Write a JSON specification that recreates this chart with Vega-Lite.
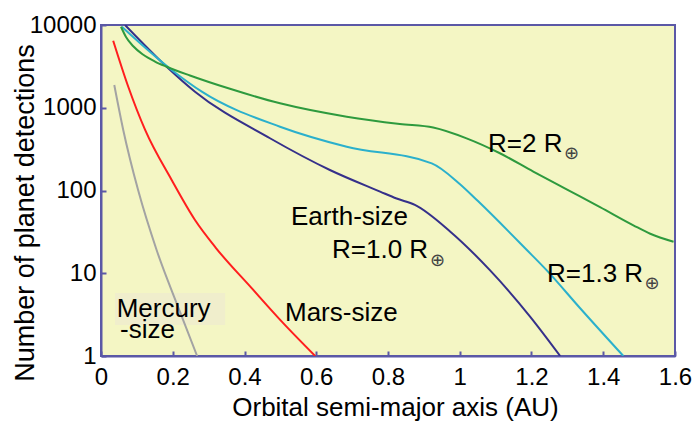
{
  "$schema": "https://vega.github.io/schema/vega-lite/v6.json",
  "width": 574,
  "height": 331,
  "autosize": "none",
  "padding": {"left": 101, "top": 25, "right": 25, "bottom": 65},
  "background": "white",
  "config": {
    "view": {"stroke": "#5b58a6", "strokeWidth": 2, "fill": "#f4f6c4"},
    "font": "Liberation Sans"
  },
  "datasets": {
    "curves": [
      {"series": "Mercury", "x": 0.037, "y": 1880},
      {"series": "Mercury", "x": 0.062, "y": 539},
      {"series": "Mercury", "x": 0.104, "y": 99},
      {"series": "Mercury", "x": 0.155, "y": 19.1},
      {"series": "Mercury", "x": 0.215, "y": 3.9},
      {"series": "Mercury", "x": 0.268, "y": 1},
      {"series": "Mars", "x": 0.034, "y": 6460},
      {"series": "Mars", "x": 0.076, "y": 1795},
      {"series": "Mars", "x": 0.123, "y": 540},
      {"series": "Mars", "x": 0.197, "y": 134},
      {"series": "Mars", "x": 0.262, "y": 44},
      {"series": "Mars", "x": 0.32, "y": 20.3},
      {"series": "Mars", "x": 0.42, "y": 6.6},
      {"series": "Mars", "x": 0.504, "y": 2.6},
      {"series": "Mars", "x": 0.597, "y": 1},
      {"series": "Earth", "x": 0.067, "y": 10000},
      {"series": "Earth", "x": 0.183, "y": 3133},
      {"series": "Earth", "x": 0.262, "y": 1563},
      {"series": "Earth", "x": 0.471, "y": 428},
      {"series": "Earth", "x": 0.638, "y": 177},
      {"series": "Earth", "x": 0.778, "y": 97},
      {"series": "Earth", "x": 0.824, "y": 80},
      {"series": "Earth", "x": 0.875, "y": 67},
      {"series": "Earth", "x": 0.973, "y": 32},
      {"series": "Earth", "x": 1.084, "y": 10.9},
      {"series": "Earth", "x": 1.196, "y": 3.0},
      {"series": "Earth", "x": 1.28, "y": 1},
      {"series": "R13", "x": 0.058, "y": 9500},
      {"series": "R13", "x": 0.197, "y": 2860},
      {"series": "R13", "x": 0.281, "y": 1563},
      {"series": "R13", "x": 0.499, "y": 590},
      {"series": "R13", "x": 0.685, "y": 338},
      {"series": "R13", "x": 0.922, "y": 213},
      {"series": "R13", "x": 1.0, "y": 120},
      {"series": "R13", "x": 1.05, "y": 75},
      {"series": "R13", "x": 1.185, "y": 19.5},
      {"series": "R13", "x": 1.242, "y": 10.9},
      {"series": "R13", "x": 1.335, "y": 3.8},
      {"series": "R13", "x": 1.456, "y": 1},
      {"series": "R2", "x": 0.0557, "y": 9530},
      {"series": "R2", "x": 0.0697, "y": 7160},
      {"series": "R2", "x": 0.0892, "y": 5570},
      {"series": "R2", "x": 0.117, "y": 4400},
      {"series": "R2", "x": 0.1505, "y": 3620},
      {"series": "R2", "x": 0.183, "y": 3133},
      {"series": "R2", "x": 0.248, "y": 2455},
      {"series": "R2", "x": 0.355, "y": 1718},
      {"series": "R2", "x": 0.499, "y": 1132},
      {"series": "R2", "x": 0.685, "y": 780},
      {"series": "R2", "x": 0.833, "y": 637},
      {"series": "R2", "x": 0.926, "y": 577},
      {"series": "R2", "x": 1.019, "y": 427},
      {"series": "R2", "x": 1.112, "y": 282},
      {"series": "R2", "x": 1.205, "y": 169},
      {"series": "R2", "x": 1.298, "y": 103},
      {"series": "R2", "x": 1.391, "y": 63},
      {"series": "R2", "x": 1.484, "y": 38},
      {"series": "R2", "x": 1.531, "y": 30},
      {"series": "R2", "x": 1.596, "y": 24}
    ],
    "labels": [
      {"text": "R=2 R", "x": 1.0787, "y": 292},
      {"text": "Earth-size", "x": 0.5296, "y": 38.3},
      {"text": "R=1.0 R", "x": 0.6439, "y": 15.3},
      {"text": "R=1.3 R", "x": 1.2432, "y": 7.84},
      {"text": "Mars-size", "x": 0.5129, "y": 2.65},
      {"text": "Mercury", "x": 0.0437, "y": 2.99},
      {"text": "-size", "x": 0.053, "y": 1.64}
    ],
    "symbols": [
      {"text": "⊕", "x": 1.3115, "y": 276},
      {"text": "⊕", "x": 0.938, "y": 14.1},
      {"text": "⊕", "x": 1.536, "y": 7.42}
    ],
    "box": [
      {"x": 0.039, "x2": 0.346, "y": 5.77, "y2": 2.37}
    ]
  },
  "encoding": {
    "x": {
      "field": "x",
      "type": "quantitative",
      "scale": {"domain": [0, 1.6], "nice": false, "zero": false},
      "axis": {
        "values": [0, 0.2, 0.4, 0.6, 0.8, 1, 1.2, 1.4, 1.6],
        "format": "~g",
        "title": "Orbital semi-major axis (AU)",
        "grid": false,
        "domainColor": "#5b58a6",
        "domainWidth": 2,
        "tickColor": "#5b58a6",
        "tickWidth": 2,
        "tickSize": -5,
        "labelPadding": 14,
        "labelFontSize": 24,
        "labelColor": "black",
        "labelFont": "Liberation Sans",
        "labelFlush": false,
        "labelOverlap": false,
        "titleFont": "Liberation Sans",
        "titleFontSize": 26,
        "titleFontWeight": "normal",
        "titleColor": "black",
        "titleX": 294,
        "titleY": 59,
        "titleAlign": "center",
        "titleBaseline": "alphabetic"
      }
    },
    "y": {
      "field": "y",
      "type": "quantitative",
      "scale": {"type": "log", "domain": [1, 10000], "nice": false},
      "axis": {
        "values": [1, 10, 100, 1000, 10000],
        "format": "d",
        "title": "Number of planet detections",
        "grid": false,
        "domainColor": "#5b58a6",
        "domainWidth": 2,
        "tickColor": "#5b58a6",
        "tickWidth": 2,
        "tickSize": -5,
        "labelPadding": 10,
        "labelFontSize": 24,
        "labelColor": "black",
        "labelFont": "Liberation Sans",
        "labelOverlap": false,
        "titleFont": "Liberation Sans",
        "titleFontSize": 27,
        "titleFontWeight": "normal",
        "titleColor": "black",
        "titleX": -68,
        "titleY": 187.5,
        "titleAlign": "center",
        "titleBaseline": "alphabetic"
      }
    }
  },
  "layer": [
    {
      "data": {"name": "box"},
      "mark": {"type": "rect", "color": "#f0eecc"},
      "encoding": {"x2": {"field": "x2"}, "y2": {"field": "y2"}}
    },
    {
      "data": {"name": "curves"},
      "mark": {"type": "line", "strokeWidth": 2, "interpolate": "monotone", "clip": true},
      "encoding": {
        "color": {
          "field": "series",
          "type": "nominal",
          "scale": {
            "domain": ["Mercury", "Mars", "Earth", "R13", "R2"],
            "range": ["#a3a3a3", "#ff1e1e", "#35308a", "#2bb0cc", "#2e9a3e"]
          },
          "legend": null
        }
      }
    },
    {
      "data": {"name": "labels"},
      "mark": {"type": "text", "align": "left", "baseline": "alphabetic", "fontSize": 26, "font": "Liberation Sans", "color": "black"},
      "encoding": {"text": {"field": "text"}}
    },
    {
      "data": {"name": "symbols"},
      "mark": {"type": "text", "align": "center", "baseline": "middle", "fontSize": 18, "font": "DejaVu Sans", "color": "#444444"},
      "encoding": {"text": {"field": "text"}}
    }
  ]
}
